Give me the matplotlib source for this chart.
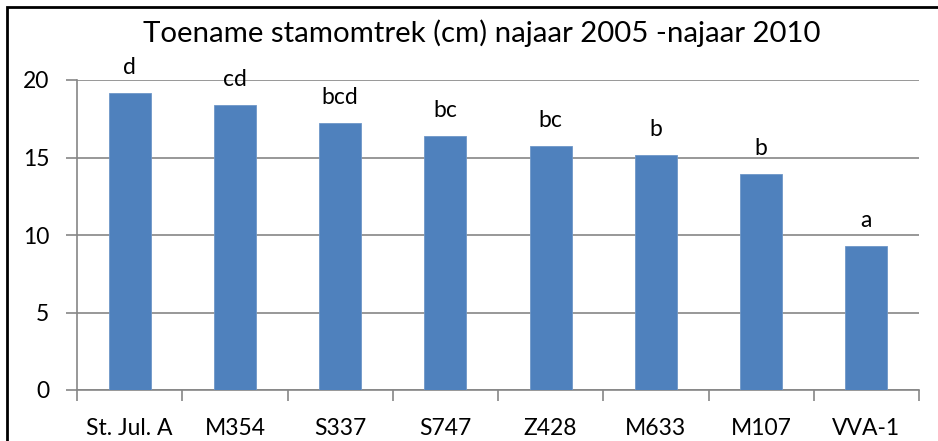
import matplotlib
matplotlib.use("Agg")
import matplotlib.pyplot as plt
from matplotlib.patches import Rectangle
import numpy as np

categories = ["St. Jul. A", "M354", "S337", "S747", "Z428", "M633", "M107", "VVA-1"]
values = [19.16, 18.37, 17.2, 16.37, 15.72, 15.14, 13.91, 9.29]
letters = ["d", "cd", "bcd", "bc", "bc", "b", "b", "a"]
yticks = [0, 5, 10, 15, 20]
title = "Toename stamomtrek (cm) najaar 2005 -najaar 2010"

plt.rcParams['font.family'] = ['Lato', 'DejaVu Sans']

W, H = 938, 441
fig = plt.figure(figsize=(W / 100, H / 100), dpi=100)
ax = fig.add_axes([77 / W, 1 - 390 / H, (919 - 77) / W, (390 - 80) / H])

grey = "#868686"
x = np.arange(len(categories))
ax.bar(x, values, width=0.4, color="#4F81BD", edgecolor="#6E97C8", linewidth=0.6, zorder=3)
ax.set_xlim(-0.5, len(categories) - 0.5)
ax.set_ylim(0, 20)
ax.set_yticks(yticks)
ax.set_yticklabels([str(t) for t in yticks], fontsize=16.5)
ax.yaxis.grid(True, color=grey, linewidth=1.2, zorder=0)
ax.set_xticks(np.arange(-0.5, len(categories)), minor=False)
ax.set_xticklabels([])
ax.set_xticks(x, minor=True)
ax.set_xticklabels(categories, minor=True, fontsize=16.5)
ax.tick_params(axis='x', which='minor', length=0, pad=20)
ax.tick_params(axis='x', which='major', length=8, color=grey, width=1.2)
ax.tick_params(axis='y', length=8, color=grey, width=1.2, pad=12)
for s in ["top", "right"]:
    ax.spines[s].set_visible(False)
for s in ["left", "bottom"]:
    ax.spines[s].set_color(grey)
    ax.spines[s].set_linewidth(1.2)

for xi, v, l in zip(x, values, letters):
    ax.annotate(l, (xi, v), xytext=(0, 11), textcoords="offset points",
                ha="center", va="bottom", fontsize=16.5)

fig.text(482 / W, 1 - 33 / H, title, ha="center", va="center", fontsize=21.2)

fig.patches.append(Rectangle((7 / W, -0.1), 1.2, 1 - 7 / H + 0.1, transform=fig.transFigure,
                             fill=False, edgecolor="black", linewidth=2))

fig.savefig("out.png", dpi=100)
